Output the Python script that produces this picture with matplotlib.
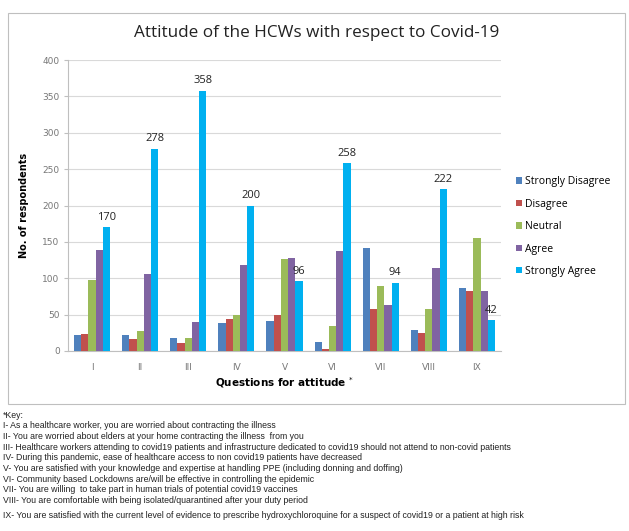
import matplotlib
matplotlib.use("Agg")
import matplotlib.pyplot as plt
import numpy as np
from matplotlib.patches import Rectangle

questions = ["I", "II", "III", "IV", "V", "VI", "VII", "VIII", "IX"]
series_names = ["Strongly Disagree", "Disagree", "Neutral", "Agree", "Strongly Agree"]
strongly_disagree = [22, 22, 18, 39, 41, 13, 142, 29, 87]
disagree = [23, 17, 11, 44, 50, 3, 58, 25, 82]
neutral = [97, 27, 18, 49, 127, 35, 90, 58, 156]
agree = [139, 106, 40, 118, 128, 138, 63, 114, 82]
strongly_agree = [170, 278, 358, 200, 96, 258, 94, 222, 42]
colors = ["#4F81BD", "#C0504D", "#9BBB59", "#8064A2", "#00B0F0"]

key_lines = [
    "*Key:",
    "I- As a healthcare worker, you are worried about contracting the illness",
    "II- You are worried about elders at your home contracting the illness  from you",
    "III- Healthcare workers attending to covid19 patients and infrastructure dedicated to covid19 should not attend to non-covid patients",
    "IV- During this pandemic, ease of healthcare access to non covid19 patients have decreased",
    "V- You are satisfied with your knowledge and expertise at handling PPE (including donning and doffing)",
    "VI- Community based Lockdowns are/will be effective in controlling the epidemic",
    "VII- You are willing  to take part in human trials of potential covid19 vaccines",
    "VIII- You are comfortable with being isolated/quarantined after your duty period",
    "IX- You are satisfied with the current level of evidence to prescribe hydroxychloroquine for a suspect of covid19 or a patient at high risk",
]

W, H = 629, 531
fig = plt.figure(figsize=(W / 100, H / 100), dpi=100)

# chart frame
fig.patches.append(Rectangle((8 / W, 1 - 404 / H), (625 - 8) / W, (404 - 13) / H,
                             transform=fig.transFigure, fill=False,
                             edgecolor="#BFBFBF", linewidth=0.8))

ax = fig.add_axes([68 / W, 1 - 351 / H, (501 - 68) / W, (351 - 60) / H])
data = [strongly_disagree, disagree, neutral, agree, strongly_agree]
x = np.arange(len(questions))
bw = 0.15
for i, (name, vals, c) in enumerate(zip(series_names, data, colors)):
    ax.bar(x + (i - 2) * bw, vals, bw, color=c, label=name, zorder=3)

for xi, v in zip(x, strongly_agree):
    ax.text(xi + 2 * bw, v + 6, str(v), ha="center", va="bottom",
            fontsize=8, family="Open Sans", color="#222222")

ax.set_ylim(0, 400)
ax.set_yticks(range(0, 401, 50))
ax.set_xlim(-0.5, len(questions) - 0.5)
ax.set_xticks(x)
ax.set_xticklabels(questions)
ax.grid(axis="y", color="#D9D9D9", linewidth=0.8, zorder=0)
for s in ["top", "right"]:
    ax.spines[s].set_visible(False)
ax.spines["left"].set_color("#BFBFBF")
ax.spines["bottom"].set_color("#BFBFBF")
ax.tick_params(axis="y", length=3, color="#BFBFBF", labelsize=6.5, labelcolor="#777777", pad=3)
ax.tick_params(axis="x", length=0, labelsize=6.5, labelcolor="#777777", pad=9)
ax.set_ylabel("No. of respondents", fontsize=7, fontweight="bold", labelpad=10)
ax.set_xlabel("Questions for attitude $^{*}$", fontsize=7.5, fontweight="bold", labelpad=2)

fig.text(317 / W, 1 - 33 / H, "Attitude of the HCWs with respect to Covid-19",
         ha="center", va="center", fontsize=12.3, family="Open Sans", color="#222222")

leg = ax.legend(loc="upper left", bbox_to_anchor=(512 / W, 1 - 172 / H),
                bbox_transform=fig.transFigure, frameon=False,
                prop={"family": "Open Sans", "size": 7.5},
                handlelength=0.55, handleheight=0.55, handletextpad=0.3,
                labelspacing=1.1, borderaxespad=0)

ys = [415, 425.7, 436.5, 447.5, 458, 468.5, 479, 489.5, 500.5, 515]
for t, yy in zip(key_lines, ys):
    fig.text(3 / W, 1 - yy / H, t, ha="left", va="center", fontsize=6.3,
             family="Liberation Sans", color="#222222")

fig.savefig("out.png", dpi=100)
